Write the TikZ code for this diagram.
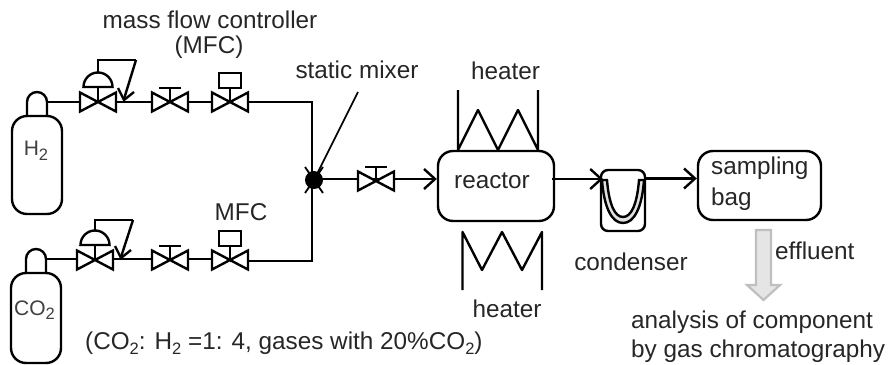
\documentclass[tikz,border=0pt]{standalone}
\usepackage{fontspec}
\setmainfont{Liberation Sans}
\usetikzlibrary{arrows.meta}
\tikzset{
  lbl/.style={font=\fontsize{24.3}{28}\selectfont,inner sep=0pt,text=black!85},
  small/.style={font=\fontsize{21}{25}\selectfont,inner sep=0pt,text=black!75},
  pipe/.style={line width=2.4pt,line join=miter},
  flow/.style={pipe,-{Straight Barb[length=11pt,width=20pt,line width=2.4pt]}},
  boxr/.style={draw,line width=2.4pt,rounded corners=15pt,minimum width=#1,inner sep=0pt},
}
\newcommand{\sbs}[1]{\raisebox{-0.22em}{\fontsize{16.5}{18}\selectfont #1}}
\newcommand{\vtri}[2]{% center x,y
  \draw[pipe,fill=white] (#1-18,#2-9.5) -- (#1-18,#2+9.5) -- (#1+18,#2-9.5) -- (#1+18,#2+9.5) -- cycle;}
\newcommand{\vhand}[2]{\vtri{#1}{#2}\draw[pipe] (#1,#2) -- (#1,#2-14) (#1-11,#2-14) -- (#1+11,#2-14);}
\newcommand{\vsquare}[2]{\vtri{#1}{#2}\draw[pipe] (#1,#2) -- (#1,#2-14) (#1-11,#2-14) rectangle (#1+11,#2-29);}
\newcommand{\vreg}[3]{\vtri{#1}{#2}\draw[pipe] (#1,#2) -- (#1,#2-15);
  \draw[pipe] (#1-14.5,#2-15) arc[start angle=180,end angle=360,radius=14.5] -- cycle;
  \draw[pipe] (#1,#2-29) -- (#1,#3) -- (#1+38,#3);
  \draw[pipe] (#1+38,#3) -- (#1+26,#2-3);
  \draw[pipe] (#1+20,#2-14) -- (#1+26,#2-2) -- (#1+36,#2-10);}
\newcommand{\cyl}[3]{% left x, body top y, bottom y
  \draw[pipe,fill=white] (#1+15,#2) -- (#1+15,#2-14) arc[start angle=180,end angle=360,radius=10] -- (#1+35,#2);
  \draw[pipe,fill=white,rounded corners=15pt] (#1,#3) -- (#1,#2) -- (#1+50,#2) -- (#1+50,#3) -- cycle;}
\begin{document}
\begin{tikzpicture}[x=1pt,y=-1pt]
\useasboundingbox (0,0) rectangle (888,364);
% pipes
\coordinate (mix) at (314,180);
\draw[pipe] (46,102) -- (312,102) -- (312,261) -- (230,261);
\draw[pipe] (46,259) -- (230,259);
\cyl{12}{116}{214}
\cyl{11}{273}{363}
\vreg{98}{102}{60}
\vhand{170}{102}
\vsquare{230}{102}
\vreg{95}{260}{220}
\vhand{170}{260}
\vsquare{230}{260}
% mixer
\fill (mix) circle (9);
\draw[line width=1.8pt] (mix) ++(-9,-13) -- ++(18,26) (mix) ++(9,-13) -- ++(-18,26);
\node[boxr=116pt,minimum height=70pt] (reactor) at (496,186) {};
\node[boxr=123pt,minimum height=69pt] (bag) at (759.5,185.5) {};
\coordinate (r1) at (552,179);
\draw[flow] (314,179) -- (reactor.west |- 0,179);
\vhand{376}{181}
% leader
\coordinate (lead) at (358,92);
\draw[line width=1.6pt] (lead) -- (mix);
% reactor labels
\node[lbl] (treac) at (492,181) {reactor};
% heaters
\draw[pipe,line join=round] (458,90) -- (458,150) -- (478,110) -- (498,150) -- (518,110) -- (538,150) -- (538,90);
\draw[pipe,line join=round] (462.5,290) -- (462.5,232) -- (482,270) -- (502,232) -- (522,270) -- (542,232) -- (542,290);
% condenser
\draw[pipe,rounded corners=7pt] (601,170) -- (601,231) -- (645,231) -- (645,170) -- cycle;
\draw[pipe,fill=black!12] (602,180) .. controls (604,208) and (612,223) .. (623,223) .. controls (634,223) and (642,208) .. (644,180) -- (639,180) .. controls (637,205) and (631,217) .. (623,217) .. controls (615,217) and (609,205) .. (607,180) -- cycle;
\draw[flow] (r1) -- (603,179);
\draw[flow] (645,178.5) -- (bag.west |- 0,178.5);
% gray arrow
\draw[line width=2.2pt,draw=black!25,fill=black!10,line join=miter] (756,230) -- (771,230) -- (771,285) -- (780,285) -- (763.5,300) -- (747,285) -- (756,285) -- cycle;
% labels
\node[lbl] (t1) at (210,20) {mass flow controller};
\node[lbl] (t2) at (209,47) {(MFC)};
\node[lbl] (t3) at (241,212) {MFC};
\node[lbl] (t4) at (357,70) {static mixer};
\node[lbl] (t5) at (505.5,71) {heater};
\node[lbl] (t6) at (507,309) {heater};
\node[lbl] (t7) at (631,262) {condenser};
\node[lbl,anchor=west] (t8) at (711,168) {sampling};
\node[lbl,anchor=west] (t9) at (711,199) {bag};
\node[lbl,anchor=west] (t10) at (775,251) {effluent};
\node[lbl,anchor=west] (t11) at (631,322) {analysis of component};
\node[lbl,anchor=west] (t12) at (631,351) {by gas chromatography};
\node[lbl,anchor=west] (t13) at (85,343) {(CO\sbs{2}: H\sbs{2} =1: 4, gases with 20\%CO\sbs{2})};
\node[small] (h2) at (36,151) {H\sbs{2}};
\node[small] (co2) at (34.5,310) {CO\sbs{2}};
\end{tikzpicture}
\end{document}
